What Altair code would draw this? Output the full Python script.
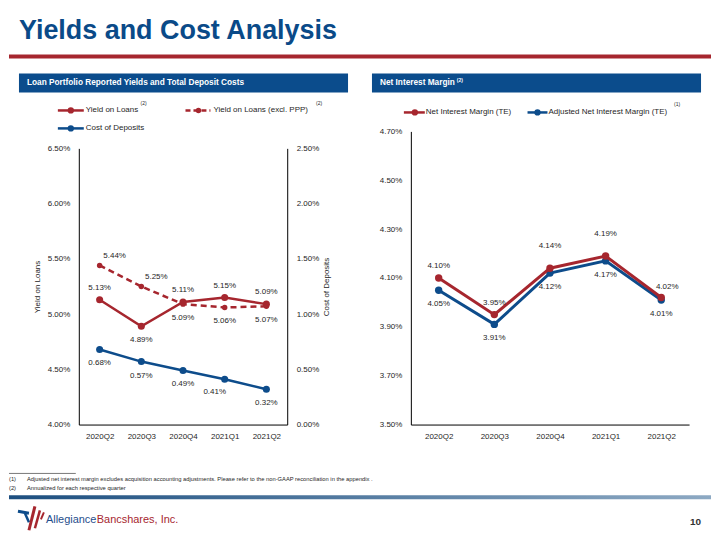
import altair as alt
import pandas as pd

# ---------------- data ----------------
quarters = ["2020Q2", "2020Q3", "2020Q4", "2021Q1", "2021Q2"]
yield_on_loans = [5.13, 4.89, 5.11, 5.15, 5.09]
yield_excl_ppp = [5.44, 5.25, 5.09, 5.06, 5.07]
cost_of_deposits = [0.68, 0.57, 0.49, 0.41, 0.32]
nim_te = [4.10, 3.95, 4.14, 4.19, 4.02]
adj_nim_te = [4.05, 3.91, 4.12, 4.17, 4.01]

left_ticks = [4.00, 4.50, 5.00, 5.50, 6.00, 6.50]
cost_ticks = [0.00, 0.50, 1.00, 1.50, 2.00, 2.50]
nim_ticks = [3.50, 3.70, 3.90, 4.10, 4.30, 4.50, 4.70]

# label placement (which side of the point the value label sits on)
yield_pos = ["above", "below", "above", "above", "above"]
excl_pos = ["right", "right", "below", "below", "below"]
cost_pos = ["below", "below", "below", "belowleft", "below"]
nim_pos = ["above", "above", "high", "high", "aboveright"]
adj_pos = ["below", "below", "below", "below", "below"]

# ---------------- style ----------------
FONT = "Liberation Sans"
RED = "#A6262E"
BLUE = "#0D4C8B"
BANNER = "#0B4C8C"
TITLE_BLUE = "#0A4A88"
TXT = "#262626"
FS = 8

OFFSETS = {
    "above": (0, -12),
    "below": (0, 14),
    "right": (15, -9),
    "belowleft": (-10, 13),
    "high": (0, -22),
    "aboveright": (6, -11),
}


def long_df(values, pos):
    return pd.DataFrame({
        "quarter": quarters,
        "value": [v / 100 for v in values],
        "label": [f"{v:.2f}%" for v in values],
        "pos": pos,
    })


def x_enc():
    return alt.X("quarter:N", sort=quarters,
                 scale=alt.Scale(type="point", padding=0.5),
                 axis=alt.Axis(title=None, labelAngle=0, labelPadding=8))


def series_layers(df, yenc, color, width, size, dash=None):
    kw = dict(color=color, strokeWidth=width)
    if dash:
        kw["strokeDash"] = dash
    line = alt.Chart(df).mark_line(**kw).encode(x=x_enc(), y=yenc)
    pts = alt.Chart(df).mark_point(filled=True, opacity=1, color=color, size=size).encode(x=x_enc(), y=yenc)
    out = [line, pts]
    for name, (dx, dy) in OFFSETS.items():
        sub = df[df["pos"] == name]
        if len(sub):
            out.append(alt.Chart(sub).mark_text(dx=dx, dy=dy, font=FONT, fontSize=FS, color=TXT)
                       .encode(x=x_enc(), y=yenc, text="label:N"))
    return out


# ---------------- left panel ----------------
yl = long_df(yield_on_loans, yield_pos)
yx = long_df(yield_excl_ppp, excl_pos)
cd = long_df(cost_of_deposits, cost_pos)


def y_yield():
    return alt.Y("value:Q",
                 scale=alt.Scale(domain=[0.04, 0.065], range=[294, 17], zero=False, nice=False),
                 axis=alt.Axis(values=[v / 100 for v in left_ticks], format=".2%",
                               title="Yield on Loans", orient="left", titlePadding=6))


def y_cost():
    return alt.Y("value:Q",
                 scale=alt.Scale(domain=[0.0, 0.025], range=[294, 17], nice=False),
                 axis=alt.Axis(values=[v / 100 for v in cost_ticks], format=".2%",
                               title="Cost of Deposits", orient="right", titleAngle=270,
                               titlePadding=12))


yield_group = alt.layer(
    *series_layers(yx, y_yield(), RED, 2.5, 30, dash=[6, 4]),
    *series_layers(yl, y_yield(), RED, 2.5, 50),
)
cost_group = alt.layer(*series_layers(cd, y_cost(), BLUE, 2.5, 50))
left = alt.layer(yield_group, cost_group).resolve_scale(y="independent").properties(width=209, height=294)

# ---------------- right panel ----------------
nm = long_df(nim_te, nim_pos)
an = long_df(adj_nim_te, adj_pos)


def y_nim():
    return alt.Y("value:Q",
                 scale=alt.Scale(domain=[0.035, 0.047], zero=False, nice=False),
                 axis=alt.Axis(values=[v / 100 for v in nim_ticks], format=".2%", title=None))


right = alt.layer(
    *series_layers(an, y_nim(), BLUE, 3, 55),
    *series_layers(nm, y_nim(), RED, 3, 55),
).properties(width=279, height=294)

# ---------------- decorations ----------------
one = pd.DataFrame({"d": [0]})


def txt(x, y, s, size=FS, color=TXT, weight="normal", align="left", baseline="middle"):
    return alt.Chart(one).mark_text(align=align, baseline=baseline, font=FONT, fontSize=size,
                                    fontWeight=weight, color=color).encode(
        x=alt.value(x), y=alt.value(y), text=alt.value(s))


def rule(x1, x2, y1, y2, color, width, dash=None):
    kw = dict(color=color, strokeWidth=width)
    if dash:
        kw["strokeDash"] = dash
    return alt.Chart(one).mark_rule(**kw).encode(
        x=alt.value(x1), x2=alt.value(x2), y=alt.value(y1), y2=alt.value(y2))


def rect(x1, x2, y1, y2, fill):
    return alt.Chart(one).mark_rect(fill=fill).encode(
        x=alt.value(x1), x2=alt.value(x2), y=alt.value(y1), y2=alt.value(y2))


def dot(x, y, color, size=40):
    return alt.Chart(one).mark_point(filled=True, opacity=1, color=color, size=size).encode(
        x=alt.value(x), y=alt.value(y))


def spacer(w, h):
    return alt.Chart(one).mark_point(opacity=0, size=1).encode(
        x=alt.value(w / 2), y=alt.value(h / 2)).properties(width=w, height=h)


# header + footer decorations live in one chart (coordinates relative to the page minus 8px margin)
deco = alt.layer(
    txt(10, 29, "Yields and Cost Analysis", size=27, color=TITLE_BLUE, weight="bold", baseline="alphabetic"),
    rect(0, 704, 45, 49, RED),
    rect(10, 340, 64, 83, BANNER),
    rect(364, 694, 64, 83, BANNER),
    txt(18, 73.5, "Loan Portfolio Reported Yields and Total Deposit Costs", size=8.3, color="white", weight="bold"),
    txt(372, 73.5, "Net Interest Margin", size=8.3, color="white", weight="bold"),
    txt(449, 70, "(2)", size=5, color="white", weight="bold"),
    # left legend
    rule(49, 75, 101, 101, RED, 2.5), dot(62, 101, RED),
    txt(77, 101, "Yield on Loans"), txt(132, 94, "(2)", size=5),
    rule(177, 202, 101, 101, RED, 2.5, dash=[5, 3]), dot(190, 101, RED, 30),
    txt(205, 101, "Yield on Loans (excl. PPP)"), txt(308, 94, "(2)", size=5),
    rule(49, 75, 119, 119, BLUE, 2.5), dot(62, 119, BLUE),
    txt(77, 119, "Cost of Deposits"),
    # right legend
    rule(396, 417, 103, 103, RED, 2.5), dot(407, 103, RED),
    txt(418, 103, "Net Interest Margin (TE)"),
    rule(520, 540, 103, 103, BLUE, 2.5), dot(530, 103, BLUE),
    txt(541, 103, "Adjusted Net Interest Margin (TE)"), txt(667, 95, "(1)", size=5),
    # footnotes
    rule(0, 67, 465, 465, "#555555", 0.8),
    txt(0, 471, "(1)", size=5.8),
    txt(18, 471, "Adjusted net interest margin excludes acquisition accounting adjustments. Please  refer to the non-GAAP reconciliation in the appendix .", size=5.8),
    txt(0, 480, "(2)", size=5.8),
    txt(18, 480, "Annualized for each respective quarter", size=5.8),
    alt.Chart(one).mark_rect(fill=alt.Gradient(
        gradient="linear", x1=0, x2=1, y1=0, y2=0,
        stops=[alt.GradientStop(color="#1D4F80", offset=0),
               alt.GradientStop(color="#8DA9C3", offset=1)])).encode(
        x=alt.value(0), x2=alt.value(704), y=alt.value(487), y2=alt.value(491)),
    # logo mark
    rule(9, 20, 503, 505, BLUE, 3),
    rule(16, 20, 505, 514, BLUE, 2.5),
    rule(26, 20, 498, 522, RED, 3),
    rule(31, 26, 502, 520, RED, 2.5),
    rule(35, 32, 504, 511, RED, 2),
    txt(37, 512, "Allegiance", size=11, color="#1F4E8C"),
    txt(88, 512, "Bancshares, Inc.", size=11, color=RED),
    txt(694, 514, "10", size=10, color="#333333", weight="bold", align="right"),
).properties(width=704, height=122)

row = alt.hconcat(spacer(70, 294), left, spacer(124, 294), right, spacing=0, bounds="flush")

chart = alt.vconcat(deco, row, spacing=0, bounds="flush", padding=0).configure_view(
    stroke="transparent"
).configure_axis(
    domainColor="black", domainWidth=1, ticks=False, tickSize=0, grid=False,
    labelFont=FONT, labelFontSize=FS, labelColor=TXT, labelPadding=9,
    titleFont=FONT, titleFontSize=FS, titleFontWeight="normal", titleColor=TXT,
)

chart.save("out.html", embed_options={"renderer": "svg", "actions": False})
